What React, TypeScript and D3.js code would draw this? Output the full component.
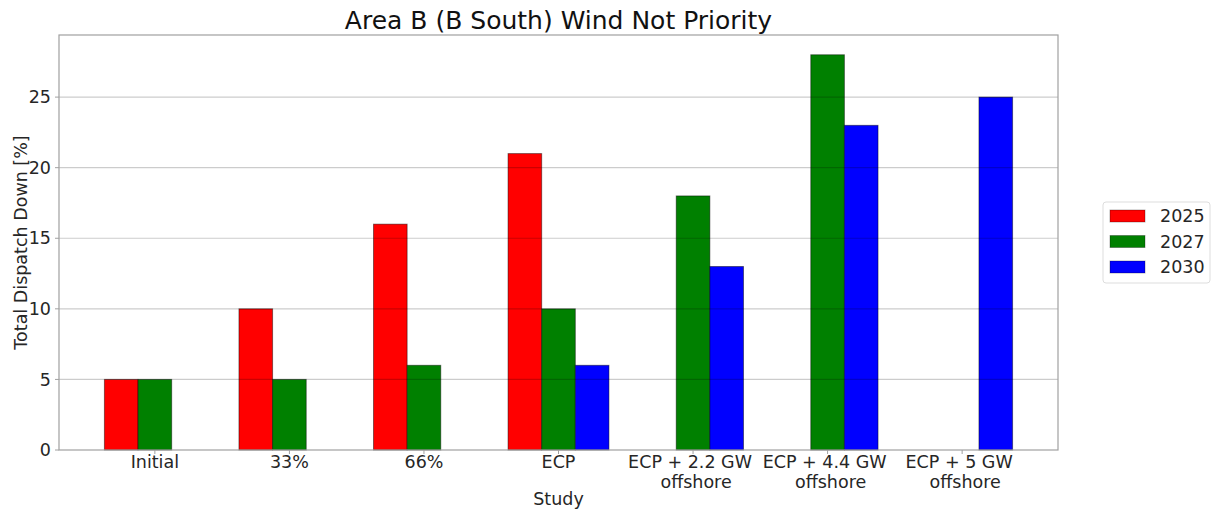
import { useEffect, useRef } from 'react';
import * as d3 from 'd3';

const categories = [
    ['Initial'],
    ['33%'],
    ['66%'],
    ['ECP'],
    ['ECP + 2.2 GW', 'offshore'],
    ['ECP + 4.4 GW', 'offshore'],
    ['ECP + 5 GW', 'offshore'],
];
const seriesNames = ['2025', '2027', '2030'];
const seriesColors = ['#ff0000', '#008000', '#0000ff'];
const values2025 = [5, 10, 16, 21, 0, 0, 0];
const values2027 = [5, 5, 6, 10, 18, 28, 0];
const values2030 = [0, 0, 0, 6, 13, 23, 25];
const yTicks = [0, 5, 10, 15, 20, 25];

const W = 1212;
const H = 510;

export default function App() {
    const svgRef = useRef<SVGSVGElement>(null);

    useEffect(() => {
        if (!svgRef.current) return;
        const svg = d3.select(svgRef.current);
        svg.selectAll('*').remove();

        const margin = { top: 35, right: 154, bottom: 60, left: 59 };
        const innerW = W - margin.left - margin.right;
        const innerH = H - margin.top - margin.bottom;
        const font = 'DejaVu Sans, sans-serif';
        const fs = 17.5;

        const g = svg.append('g').attr('transform', `translate(${margin.left},${margin.top})`);

        const barW = 0.25;
        const x = d3.scaleLinear().domain([-0.7125, 6.7125]).range([0, innerW]);
        const y = d3.scaleLinear().domain([0, 29.4]).range([innerH, 0]);

        const allSeries = [values2025, values2027, values2030];
        const offsets = [-barW, 0, barW];

        // bars
        allSeries.forEach((vals, si) => {
            g.append('g')
                .selectAll('rect')
                .data(vals.map((v, i) => ({ v, i })).filter(d => d.v > 0))
                .join('rect')
                .attr('x', d => x(d.i + offsets[si] - barW / 2))
                .attr('width', x(barW) - x(0))
                .attr('y', d => y(d.v))
                .attr('height', d => innerH - y(d.v))
                .attr('fill', seriesColors[si])
                .attr('stroke', 'rgba(0,0,0,0.45)')
                .attr('stroke-width', 1);
        });

        // grid on top
        g.append('g')
            .selectAll('line')
            .data(yTicks.filter(t => t > 0))
            .join('line')
            .attr('x1', 0)
            .attr('x2', innerW)
            .attr('y1', d => y(d))
            .attr('y2', d => y(d))
            .attr('stroke', 'rgba(0,0,0,0.2)')
            .attr('stroke-width', 1.2);

        // frame
        g.append('rect')
            .attr('x', 0)
            .attr('y', 0)
            .attr('width', innerW)
            .attr('height', innerH)
            .attr('fill', 'none')
            .attr('stroke', '#a0a0a0')
            .attr('stroke-width', 1.2);

        // y ticks
        const yt = g.append('g').selectAll('g').data(yTicks).join('g')
            .attr('transform', d => `translate(0,${y(d)})`);
        yt.append('line').attr('x1', -4).attr('x2', 0).attr('stroke', '#a0a0a0');
        yt.append('text')
            .attr('x', -8)
            .attr('dy', '0.35em')
            .attr('text-anchor', 'end')
            .attr('font-family', font)
            .attr('font-size', fs)
            .attr('fill', '#262626')
            .text(d => d);

        // x ticks
        const xt = g.append('g').selectAll('g').data(categories).join('g')
            .attr('transform', (d, i) => `translate(${x(i)},${innerH})`);
        xt.append('line').attr('y1', 0).attr('y2', 4).attr('stroke', '#a0a0a0');
        xt.append('text')
            .attr('text-anchor', 'middle')
            .attr('font-family', font)
            .attr('font-size', fs)
            .attr('fill', '#262626')
            .selectAll('tspan')
            .data(d => d.map((s, i) => ({ s, i, n: d.length })))
            .join('tspan')
            .attr('x', d => (d.n > 1 ? (d.i === 0 ? -3 : 3) : 0))
            .attr('y', d => 18 + d.i * 19.5)
            .text(d => d.s);

        // axis labels
        svg.append('text')
            .attr('x', margin.left + x(3))
            .attr('y', 505)
            .attr('text-anchor', 'middle')
            .attr('font-family', font)
            .attr('font-size', fs)
            .attr('fill', '#262626')
            .text('Study');
        svg.append('text')
            .attr('transform', `translate(27,${margin.top + innerH / 2}) rotate(-90)`)
            .attr('text-anchor', 'middle')
            .attr('font-family', font)
            .attr('font-size', fs)
            .attr('fill', '#262626')
            .text('Total Dispatch Down [%]');
        svg.append('text')
            .attr('x', margin.left + innerW / 2)
            .attr('y', 29)
            .attr('text-anchor', 'middle')
            .attr('font-family', font)
            .attr('font-size', 25)
            .attr('fill', '#111')
            .text('Area B (B South) Wind Not Priority');

        // legend
        const lg = svg.append('g').attr('transform', 'translate(1103,202)');
        lg.append('rect')
            .attr('width', 107)
            .attr('height', 81)
            .attr('rx', 3)
            .attr('fill', '#fff')
            .attr('stroke', '#dddddd');
        seriesNames.forEach((name, i) => {
            const row = lg.append('g').attr('transform', `translate(0,${14 + i * 25.5})`);
            row.append('rect')
                .attr('x', 7)
                .attr('y', -6)
                .attr('width', 35)
                .attr('height', 12)
                .attr('fill', seriesColors[i])
                .attr('stroke', 'rgba(0,0,0,0.3)');
            row.append('text')
                .attr('x', 57)
                .attr('dy', '0.35em')
                .attr('font-family', font)
                .attr('font-size', fs)
                .attr('fill', '#262626')
                .text(name);
        });
    }, []);

    return (
        <div style={{ position: 'absolute', left: 0, top: 0 }}>
            <svg ref={svgRef} width={W} height={H} style={{ display: 'block', background: '#fff' }} />
        </div>
    );
}
